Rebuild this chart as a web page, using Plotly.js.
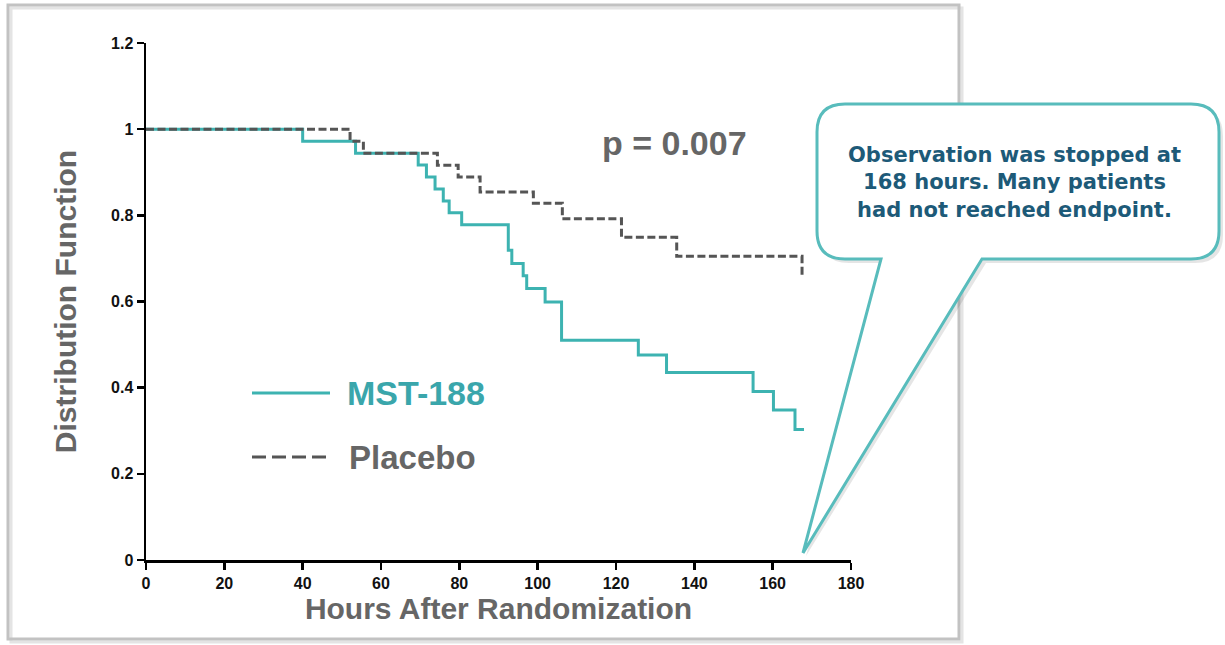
<!DOCTYPE html>
<html>
<head>
<meta charset="utf-8">
<script src="https://cdn.plot.ly/plotly-3.0.1.min.js"></script>
<style>
  html, body { margin: 0; padding: 0; background: #ffffff; }
  #chart { width: 1225px; height: 645px; }
</style>
</head>
<body>
<div id="chart"></div>
<script>
// ---- Data ----
const seriesNames = ["MST-188", "Placebo"];

// Kaplan-Meier style steps: time of each drop and the new level
const mstHours = [0, 40.0, 53.5, 69.5, 71.6, 73.8, 75.9, 77.4, 80.6, 92.5, 93.4, 96.3, 97.2, 101.9, 106.1, 125.7, 132.9, 155.0, 160.2, 165.7, 168.0];
const mstValues = [1, 0.972, 0.944, 0.917, 0.889, 0.861, 0.833, 0.806, 0.778, 0.719, 0.688, 0.660, 0.630, 0.599, 0.510, 0.476, 0.435, 0.391, 0.348, 0.303, 0.303];

const placeboHours = [0, 52.1, 55.5, 74.4, 79.7, 85.3, 98.9, 106.3, 121.4, 135.5, 167.5];
const placeboValues = [1, 0.972, 0.944, 0.916, 0.889, 0.854, 0.828, 0.792, 0.749, 0.705, 0.656];

const xTickValues = [0, 20, 40, 60, 80, 100, 120, 140, 160, 180];
const yTickValues = [0, 0.2, 0.4, 0.6, 0.8, 1, 1.2];

const pValueText = "p = 0.007";
const calloutText = "Observation was stopped at<br>168 hours. Many patients<br>had not reached endpoint.";
const xTitle = "Hours After Randomization";
const yTitle = "Distribution Function";

// ---- Styles ----
const teal = "#3db3b1";
const tealText = "#3aa6ab";
const darkGray = "#555555";
const titleGray = "#666666";
const W = 1225, H = 645;

const traces = [
  {
    x: mstHours, y: mstValues, name: seriesNames[0],
    type: "scatter", mode: "lines", line: { shape: "hv", color: teal, width: 3 },
    xaxis: "x", yaxis: "y", hoverinfo: "x+y+name"
  },
  {
    x: placeboHours, y: placeboValues, name: seriesNames[1],
    type: "scatter", mode: "lines", line: { shape: "hv", color: darkGray, width: 3, dash: "8px,3.5px" },
    xaxis: "x", yaxis: "y", hoverinfo: "x+y+name"
  }
];

const tickFont = { family: "Liberation Sans Narrow, Liberation Sans, Arial, sans-serif", size: 16, color: "#111111", weight: "bold" };
const axisTitleFont = { family: "Liberation Sans, Arial, sans-serif", size: 30, color: titleGray, weight: "bold" };

// callout drawn in pixel coordinates on an overlay axis pair (x2 / y2)
const callPath = "M 845,104 L 1191,104 Q 1219,104 1219,132 L 1219,231 Q 1219,259 1191,259 L 982,259 L 803,553 L 881,259 L 845,259 Q 817,259 817,231 L 817,132 Q 817,104 845,104 Z";
const shadowPath = "M 849,108 L 1195,108 Q 1223,108 1223,136 L 1223,235 Q 1223,263 1195,263 L 986,263 L 806,556 L 885,263 L 849,263 Q 821,263 821,235 L 821,136 Q 821,108 849,108 Z";

const layout = {
  width: W, height: H,
  margin: { l: 0, r: 0, t: 0, b: 0, pad: 0 },
  paper_bgcolor: "#ffffff",
  plot_bgcolor: "rgba(0,0,0,0)",
  showlegend: false,
  xaxis: {
    domain: [146 / W, 851 / W],
    range: [0, 180], autorange: false,
    tickvals: xTickValues, ticks: "outside", ticklen: 7, tickwidth: 2.5, tickcolor: "#000",
    showline: true, linecolor: "#000", linewidth: 2.5,
    showgrid: false, zeroline: false,
    tickfont: tickFont,
    title: { text: xTitle, font: axisTitleFont, standoff: 8 },
    anchor: "y", automargin: false
  },
  yaxis: {
    domain: [(H - 560) / H, (H - 43) / H],
    range: [0, 1.2], autorange: false,
    tickvals: yTickValues, ticks: "outside", ticklen: 7, tickwidth: 2.5, tickcolor: "#000",
    showline: true, linecolor: "#000", linewidth: 2.5,
    showgrid: false, zeroline: false,
    tickfont: tickFont,
    title: { text: yTitle, font: axisTitleFont, standoff: 26 },
    anchor: "x", automargin: false
  },
  xaxis2: { domain: [0, 1], range: [0, W], autorange: false, visible: false, anchor: "y2", fixedrange: true },
  yaxis2: { domain: [0, 1], range: [H, 0], autorange: false, visible: false, anchor: "x2", fixedrange: true },
  shapes: [
    // outer frame
    { type: "rect", xref: "x2", yref: "y2", x0: 11, y0: 8, x1: 962, y1: 642, line: { color: "#e4e4e4", width: 3 }, layer: "below" },
    { type: "rect", xref: "x2", yref: "y2", x0: 8, y0: 5, x1: 959, y1: 639, line: { color: "#c2c2c2", width: 3 }, layer: "below" },
    // legend samples
    { type: "line", xref: "x2", yref: "y2", x0: 252, x1: 330, y0: 393, y1: 393, line: { color: teal, width: 3 }, layer: "above" },
    { type: "line", xref: "x2", yref: "y2", x0: 252, x1: 328, y0: 457, y1: 457, line: { color: darkGray, width: 3, dash: "14px,6px" }, layer: "above" },
    // callout shadow + callout
    { type: "path", xref: "x2", yref: "y2", path: shadowPath, fillcolor: "rgba(0,0,0,0.10)", line: { width: 0, color: "rgba(0,0,0,0)" }, layer: "above" },
    { type: "path", xref: "x2", yref: "y2", path: callPath, fillcolor: "#ffffff", line: { color: "#58bcbc", width: 3 }, layer: "above" }
  ],
  annotations: [
    { xref: "x2", yref: "y2", x: 345, y: 393, xanchor: "left", yanchor: "middle", showarrow: false,
      text: seriesNames[0], font: { family: "Liberation Sans, Arial, sans-serif", size: 34, color: tealText, weight: "bold" } },
    { xref: "x2", yref: "y2", x: 347, y: 457, xanchor: "left", yanchor: "middle", showarrow: false,
      text: seriesNames[1], font: { family: "Liberation Sans, Arial, sans-serif", size: 33, color: titleGray, weight: "bold" } },
    { xref: "x2", yref: "y2", x: 600, y: 143, xanchor: "left", yanchor: "middle", showarrow: false,
      text: pValueText, font: { family: "Liberation Sans, Arial, sans-serif", size: 34, color: titleGray, weight: "bold" } },
    { xref: "x2", yref: "y2", x: 1014, y: 182, xanchor: "center", yanchor: "middle", showarrow: false, align: "center",
      text: calloutText, font: { family: "DejaVu Sans, Verdana, sans-serif", size: 21, color: "#1d5a78", weight: "bold" } }
  ]
};

Plotly.newPlot("chart", traces, layout, { displayModeBar: false, staticPlot: true });
</script>
</body>
</html>
